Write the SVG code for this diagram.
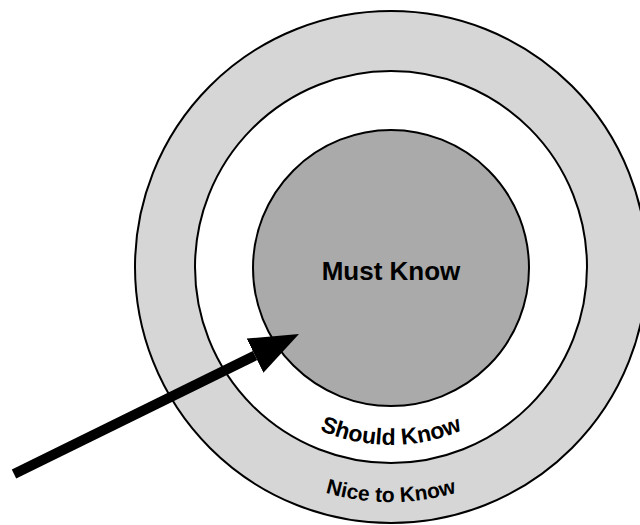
<svg xmlns="http://www.w3.org/2000/svg" xmlns:xlink="http://www.w3.org/1999/xlink" width="640" height="525" viewBox="0 0 640 525">
  <style>
    .ring { stroke: #000; stroke-width: 2; }
    .lbl { font-family: "Liberation Sans", Arial, Helvetica, sans-serif; font-weight: bold; fill: #000; }
  </style>
  <defs>
    <path id="arcShould" d="M 213 267 A 178 178 0 0 0 569 267" fill="none"/>
    <path id="arcNice" d="M 156 267 A 235 235 0 0 0 626 267" fill="none"/>
    <marker id="head" markerUnits="userSpaceOnUse" markerWidth="50" markerHeight="40" viewBox="0 -20 50 40" refX="0" refY="0" orient="auto">
      <path d="M0,-19 L49,0 L0,19 z" fill="#000"/>
    </marker>
  </defs>
  <rect width="640" height="525" fill="#fff"/>
  <g id="nice-to-know">
    <circle class="ring" cx="391" cy="267" r="256" fill="#d6d6d6"/>
  </g>
  <g id="should-know">
    <circle class="ring" cx="391" cy="267" r="196" fill="#fff"/>
  </g>
  <g id="must-know">
    <circle class="ring" cx="391" cy="268" r="138" fill="#aaaaaa"/>
    <text class="lbl" x="391" y="280" font-size="26" text-anchor="middle">Must Know</text>
  </g>
  <g id="ring-labels">
    <text class="lbl" font-size="23" text-anchor="middle"><textPath xlink:href="#arcShould" href="#arcShould" startOffset="50%">Should Know</textPath></text>
    <text class="lbl" font-size="21" text-anchor="middle"><textPath xlink:href="#arcNice" href="#arcNice" startOffset="50%">Nice to Know</textPath></text>
  </g>
  <g id="connectors">
    <line x1="14" y1="474" x2="255" y2="355.6" stroke="#000" stroke-width="10" marker-end="url(#head)"/>
  </g>
</svg>
